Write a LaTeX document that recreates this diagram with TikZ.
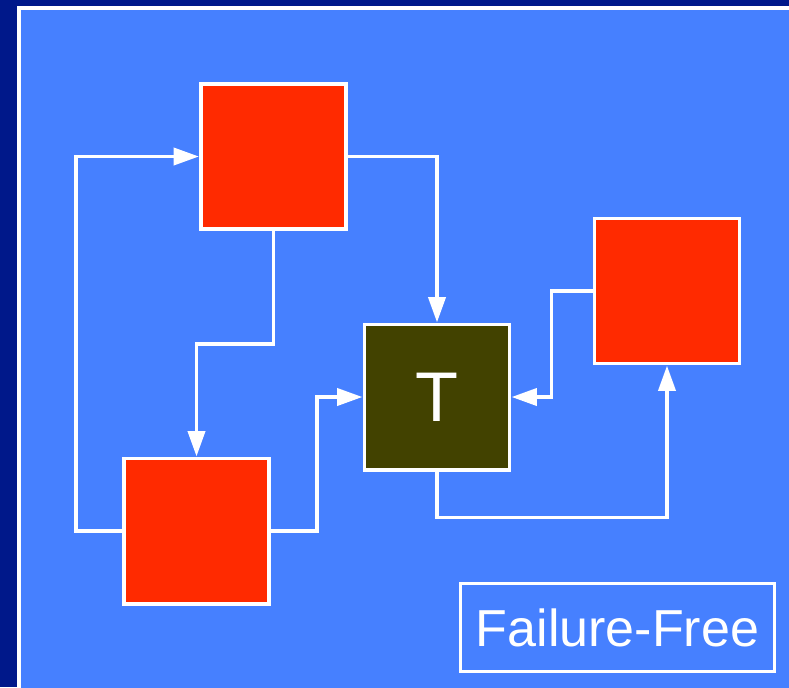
\documentclass[tikz,border=0pt]{standalone}
\usepackage{fontspec}
\setmainfont{Liberation Sans}
\usetikzlibrary{arrows.meta}

\definecolor{slidebg}{HTML}{00188A}
\definecolor{panelblue}{HTML}{4680FF}
\definecolor{blockred}{HTML}{FF2A00}
\definecolor{targetolive}{HTML}{424200}

\begin{document}
\begin{tikzpicture}[
    x=0.025cm, y=-0.025cm,
    block/.style={rectangle, draw=white, line width=2.8pt, fill=blockred,
                  minimum size=3.625cm, inner sep=0pt},
    arrow/.style={-{Triangle[length=18pt, width=12pt]}, white, line width=2.8pt}
]
\clip (0,0) rectangle (789,687);
\fill[slidebg] (0,0) rectangle (789,687);
\filldraw[fill=panelblue, draw=white, line width=2.8pt] (19,8) rectangle (820,720);

\node[block] (upper) at (273.5,156.5) {};
\node[block] (lower) at (196.5,531) {};
\node[block] (side) at (667,291) {};
\node[block, fill=targetolive, text=white, font=\fontsize{50}{50}\selectfont]
    (target) at (437,397) {T};
\node[rectangle, draw=white, line width=2.2pt, minimum width=7.85cm,
      minimum height=2.2cm, text=white, font=\fontsize{37}{37}\selectfont]
    (label) at (617.5,627.5) {Failure-Free};

\draw[arrow] (upper.east) -| (target.north);
\draw[arrow] (lower.west) -- ++(-46,0) |- (upper.west);
\draw[arrow] (upper.south) -- ++(0,113) -| (lower.north);
\draw[arrow] (lower.east) -- ++(46,0) |- (target.west);
\draw[arrow] (side.west) -- ++(-41,0) |- (target.east);
\draw[arrow] (target.south) -- ++(0,46) -| (side.south);
\end{tikzpicture}
\end{document}
